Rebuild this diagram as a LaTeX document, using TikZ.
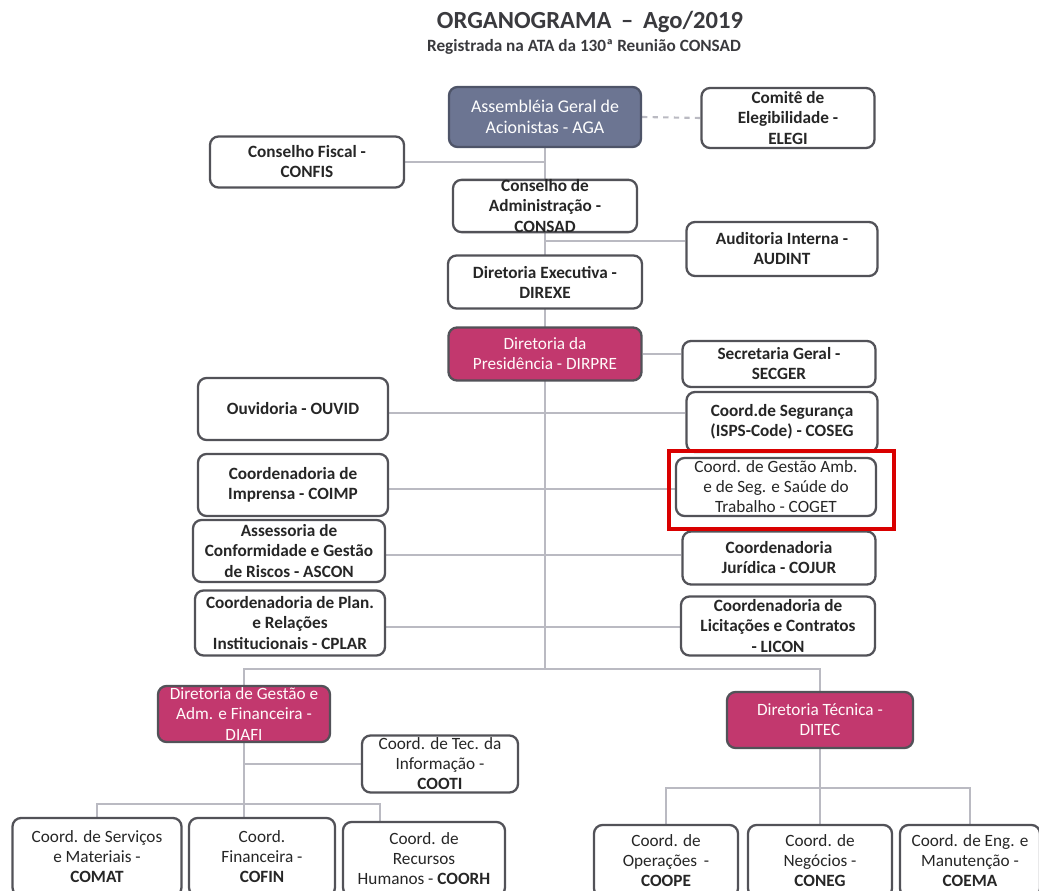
\documentclass[tikz,border=0pt]{standalone}
\usepackage{fontspec}
\setmainfont{Carlito}
\usepackage{tikz}
\usetikzlibrary{positioning, calc, backgrounds}
\definecolor{agablue}{RGB}{108,117,146}
\definecolor{agaline}{RGB}{78,84,104}
\definecolor{dirpink}{RGB}{194,56,110}
\definecolor{boxline}{RGB}{82,82,88}
\definecolor{linkgray}{RGB}{186,186,194}
\definecolor{titlegray}{RGB}{58,58,62}

\begin{document}
\begin{tikzpicture}[x=0.02cm, y=-0.02cm,
	box/.style={draw=boxline, line width=1.3pt, rounded corners=0.17cm, fill=white,
		align=center, inner sep=1pt, text=black!85,
		font=\fontsize{9.8}{11.4}\selectfont\bfseries},
	plainbox/.style={box, font=\fontsize{9.8}{11.4}\selectfont},
	darkbox/.style={box, fill=agablue, draw=agaline, text=white,
		font=\fontsize{10.2}{12}\selectfont},
	pinkbox/.style={box, fill=dirpink, draw=boxline, text=white!92!pink,
		font=\fontsize{9.8}{11.4}\selectfont},
	sz/.style 2 args={minimum width=#1*0.02cm, minimum height=#2*0.02cm},
	link/.style={draw=linkgray, line width=1.2pt}]
	
	\useasboundingbox (0,0) rectangle (1039,891);
	\clip (0,0) rectangle (1039,891);
	
	% Title
	\node[text=titlegray, font=\fontsize{14}{16}\selectfont\bfseries] (title) at (590,22) {ORGANOGRAMA \,--\, Ago/2019};
	\node[text=titlegray, font=\fontsize{9.8}{11}\selectfont\bfseries] (subtitle) at (584,47) {Registrada na ATA da 130ª Reunião CONSAD};
	
	% Top of the chart
	\node[darkbox, sz={192}{60}] (aga) at (545,117) {Assembléia Geral de\\Acionistas - AGA};
	\node[box, sz={173}{60}] (elegi) at (788,118) {Comitê de\\Elegibilidade -\\ELEGI};
	\node[box, sz={194}{51}] (confis) at (307,162) {Conselho Fiscal -\\CONFIS};
	\node[box, sz={184}{52}, inner sep=0pt] (consad) at (545,206) {Conselho de\\Administração -\\CONSAD};
	\node[box, sz={191}{54}] (audint) at (782,249) {Auditoria Interna -\\AUDINT};
	\node[box, sz={194}{53}] (direxe) at (545,282) {Diretoria Executiva -\\DIREXE};
	\node[pinkbox, sz={193}{53}] (dirpre) at (545,354) {Diretoria da\\Presidência - DIRPRE};
	
	% Units of the presidency
	\node[box, sz={193}{46}] (secger) at (779,364) {Secretaria Geral -\\SECGER};
	\node[box, sz={190}{62}] (ouvid) at (293,409) {Ouvidoria - OUVID};
	\node[box, sz={191}{60}] (coseg) at (782,422) {Coord.de Segurança\\(ISPS-Code) - COSEG};
	\node[box, sz={190}{62}] (coimp) at (293,485) {Coordenadoria de\\Imprensa - COIMP};
	\node[plainbox, sz={200}{58}] (coget) at (776,487) {Coord. de Gestão Amb.\\e de Seg. e Saúde do\\Trabalho - COGET};
	\node[box, sz={192}{62}] (ascon) at (289,551) {Assessoria de\\Conformidade e Gestão\\de Riscos - ASCON};
	\node[box, sz={193}{53}] (cojur) at (779,558) {Coordenadoria\\Jurídica - COJUR};
	\node[box, sz={190}{65}] (cplar) at (290,623) {Coordenadoria de Plan.\\e Relações\\Institucionais - CPLAR};
	\node[box, sz={194}{59}] (licon) at (778,626) {Coordenadoria de\\Licitações e Contratos\\- LICON};
	
	% Directorates
	\node[pinkbox, sz={172}{56}] (diafi) at (244,714) {Diretoria de Gestão e\\Adm. e Financeira -\\DIAFI};
	\node[pinkbox, sz={186}{56}] (ditec) at (820,720) {Diretoria Técnica -\\DITEC};
	\node[plainbox, sz={156}{57}] (cooti) at (440,764) {Coord. de Tec. da\\Informação -\\\textbf{COOTI}};
	
	% Bottom row
	\node[plainbox, sz={169}{78}] (comat) at (97,857) {Coord. de Serviços\\e Materiais -\\\textbf{COMAT}};
	\node[plainbox, sz={146}{78}] (cofin) at (262,857) {Coord.\\Financeira -\\\textbf{COFIN}};
	\node[plainbox, sz={162}{74}] (coorh) at (424,859) {Coord. de\\Recursos\\Humanos - \textbf{COORH}};
	\node[plainbox, sz={144}{72}] (coope) at (666,861) {Coord. de\\Operações \,-\\\textbf{COOPE}};
	\node[plainbox, sz={144}{72}] (coneg) at (820,861) {Coord. de\\Negócios -\\\textbf{CONEG}};
	\node[plainbox, sz={140}{72}] (coema) at (970,861) {Coord. de Eng. e\\Manutenção -\\\textbf{COEMA}};
	
	% Highlight
	\draw[red!85!black, line width=2.2pt] ($(coget.north west)+(-6,-6)$) rectangle ($(coget.south east)+(17,12)$);
	
	% Connectors
	\begin{scope}[on background layer]
		\coordinate (tbar) at ($(aga.south)+(0,521)$);
		\draw[link] (aga.south) -- (tbar);
		\draw[link, dashed] (aga.east) -- (elegi.west);
		\draw[link] (confis.east) -- (confis.east -| aga.south);
		\coordinate (audl) at ($(audint.west)+(0,-8)$);
		\draw[link] (audl) -- (audl -| consad.south);
		\draw[link] (dirpre.east) -- (dirpre.east -| secger.west);
		\foreach \l/\r in {ouvid/coseg, coimp/coget, ascon/cojur, cplar/licon}{
			\coordinate (lend) at ($(\l.east)+(0,4)$);
			\draw[link] (lend) -- (lend -| \r.west);
		}
		\draw[link] (diafi.north) |- (tbar) -| (ditec.north);
		
		% DIAFI branch
		\coordinate (dbar) at ($(diafi.south)+(0,61)$);
		\coordinate (coorhtop) at ($(coorh.north)+(-44,0)$);
		\draw[link] (diafi.south) -- (diafi.south |- cofin.north);
		\draw[link] (cooti.west) -- (cooti.west -| diafi.south);
		\draw[link] (comat.north) |- (dbar) -| (coorhtop);
		
		% DITEC branch
		\coordinate (ebar) at ($(ditec.south)+(0,39)$);
		\draw[link] (ditec.south) -- (coneg.north);
		\draw[link] (coope.north) |- (ebar) -| (coema.north);
	\end{scope}
	
\end{tikzpicture}
\end{document}
